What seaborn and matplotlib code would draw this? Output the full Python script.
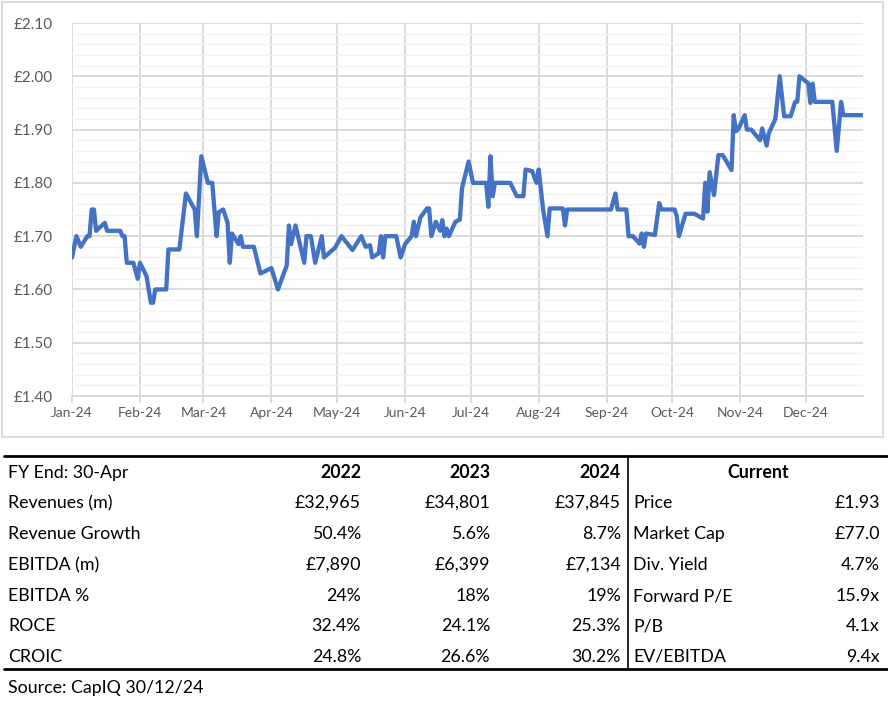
import matplotlib
matplotlib.use("Agg")
import matplotlib.pyplot as plt
import matplotlib.dates as mdates
from matplotlib.lines import Line2D
from matplotlib.patches import Rectangle
from matplotlib.ticker import MultipleLocator, FuncFormatter
import seaborn as sns
import pandas as pd

# ---------------- data ----------------
dates = [
    "2024-01-01", "2024-01-03", "2024-01-05", "2024-01-08", "2024-01-09", "2024-01-10",
    "2024-01-11", "2024-01-12", "2024-01-16", "2024-01-17", "2024-01-23", "2024-01-24",
    "2024-01-25", "2024-01-26", "2024-01-29", "2024-01-31", "2024-02-01", "2024-02-04",
    "2024-02-06", "2024-02-07", "2024-02-08", "2024-02-13", "2024-02-14", "2024-02-19",
    "2024-02-22", "2024-02-26", "2024-02-27", "2024-02-29", "2024-03-03", "2024-03-05",
    "2024-03-07", "2024-03-08", "2024-03-10", "2024-03-12", "2024-03-13", "2024-03-14",
    "2024-03-17", "2024-03-18", "2024-03-19", "2024-03-24", "2024-03-27", "2024-04-01",
    "2024-04-04", "2024-04-08", "2024-04-09", "2024-04-10", "2024-04-12", "2024-04-16",
    "2024-04-17", "2024-04-19", "2024-04-21", "2024-04-24", "2024-04-25", "2024-04-30",
    "2024-05-03", "2024-05-08", "2024-05-12", "2024-05-14", "2024-05-16", "2024-05-17",
    "2024-05-20", "2024-05-21", "2024-05-22", "2024-05-23", "2024-05-28", "2024-05-30",
    "2024-06-01", "2024-06-04", "2024-06-05", "2024-06-06", "2024-06-08", "2024-06-11",
    "2024-06-12", "2024-06-13", "2024-06-15", "2024-06-17", "2024-06-18", "2024-06-19",
    "2024-06-20", "2024-06-21", "2024-06-24", "2024-06-26", "2024-06-27", "2024-06-30",
    "2024-07-02", "2024-07-08", "2024-07-09", "2024-07-10", "2024-07-11", "2024-07-12",
    "2024-07-19", "2024-07-22", "2024-07-25", "2024-07-26", "2024-07-29", "2024-07-31",
    "2024-08-01", "2024-08-03", "2024-08-05", "2024-08-06", "2024-08-12", "2024-08-13",
    "2024-08-14", "2024-09-03", "2024-09-05", "2024-09-06", "2024-09-10", "2024-09-11",
    "2024-09-13", "2024-09-16", "2024-09-17", "2024-09-18", "2024-09-19", "2024-09-23",
    "2024-09-25", "2024-09-26", "2024-10-02", "2024-10-03", "2024-10-04", "2024-10-07",
    "2024-10-11", "2024-10-15", "2024-10-16", "2024-10-17", "2024-10-18", "2024-10-20",
    "2024-10-22", "2024-10-24", "2024-10-28", "2024-10-29", "2024-10-30", "2024-10-31",
    "2024-11-03", "2024-11-04", "2024-11-06", "2024-11-10", "2024-11-11", "2024-11-13",
    "2024-11-14", "2024-11-17", "2024-11-19", "2024-11-21", "2024-11-24", "2024-11-26",
    "2024-11-27", "2024-11-28", "2024-12-02", "2024-12-03", "2024-12-04", "2024-12-05",
    "2024-12-13", "2024-12-15", "2024-12-17", "2024-12-18", "2024-12-27",
]
prices = [
    1.66, 1.70, 1.68, 1.70, 1.70, 1.75,
    1.75, 1.71, 1.725, 1.71, 1.71, 1.70,
    1.70, 1.65, 1.65, 1.62, 1.65, 1.625,
    1.575, 1.575, 1.60, 1.60, 1.675, 1.675,
    1.78, 1.75, 1.70, 1.85, 1.80, 1.80,
    1.70, 1.745, 1.75, 1.725, 1.65, 1.705,
    1.685, 1.70, 1.68, 1.68, 1.63, 1.64,
    1.60, 1.645, 1.72, 1.685, 1.72, 1.65,
    1.70, 1.70, 1.65, 1.70, 1.66, 1.678,
    1.70, 1.674, 1.70, 1.68, 1.683, 1.66,
    1.668, 1.70, 1.66, 1.70, 1.70, 1.66,
    1.685, 1.70, 1.727, 1.70, 1.735, 1.752,
    1.752, 1.70, 1.727, 1.71, 1.73, 1.70,
    1.714, 1.70, 1.727, 1.731, 1.79, 1.84,
    1.80, 1.80, 1.755, 1.85, 1.775, 1.80,
    1.80, 1.775, 1.775, 1.825, 1.822, 1.80,
    1.825, 1.75, 1.70, 1.752, 1.752, 1.72,
    1.75, 1.75, 1.78, 1.75, 1.75, 1.70,
    1.70, 1.686, 1.705, 1.68, 1.705, 1.702,
    1.762, 1.75, 1.75, 1.738, 1.70, 1.742,
    1.742, 1.733, 1.80, 1.746, 1.82, 1.777,
    1.852, 1.852, 1.824, 1.927, 1.897, 1.90,
    1.927, 1.90, 1.90, 1.88, 1.902, 1.87,
    1.893, 1.92, 2.00, 1.925, 1.925, 1.952,
    1.952, 2.00, 1.987, 1.95, 1.986, 1.952,
    1.952, 1.86, 1.952, 1.927, 1.927,
]

y_ticks = [1.40, 1.50, 1.60, 1.70, 1.80, 1.90, 2.00, 2.10]

table_header = ["FY End: 30-Apr", "2022", "2023", "2024", "Current"]
metrics = ["Revenues (m)", "Revenue Growth", "EBITDA (m)", "EBITDA %", "ROCE", "CROIC"]
fy2022 = ["£32,965", "50.4%", "£7,890", "24%", "32.4%", "24.8%"]
fy2023 = ["£34,801", "5.6%", "£6,399", "18%", "24.1%", "26.6%"]
fy2024 = ["£37,845", "8.7%", "£7,134", "19%", "25.3%", "30.2%"]
current_labels = ["Price", "Market Cap", "Div. Yield", "Forward P/E", "P/B", "EV/EBITDA"]
current_values = ["£1.93", "£77.0", "4.7%", "15.9x", "4.1x", "9.4x"]
source_note = "Source: CapIQ 30/12/24"

# ---------------- styling ----------------
sns.set_theme(style="white")
plt.rcParams["font.family"] = ["Lato", "DejaVu Sans"]

W, H = 888, 702
fig = plt.figure(figsize=(W / 100, H / 100), dpi=100)
fig.patch.set_facecolor("white")


def fx(px):
    return px / W


def fy(py):
    return 1 - py / H


# chart border
fig.patches.append(Rectangle((fx(1.5), fy(437)), fx(883) - fx(1.5), fy(1.5) - fy(437),
                             transform=fig.transFigure, fill=False,
                             edgecolor="#D9D9D9", linewidth=1.3, zorder=0))

ax = fig.add_axes([fx(72), fy(396), fx(863) - fx(72), fy(23) - fy(396)])

df = pd.DataFrame({"date": pd.to_datetime(dates), "price": prices})
sns.lineplot(data=df, x="date", y="price", ax=ax, color="#4472C4", linewidth=3.1,
             solid_joinstyle="round", solid_capstyle="round", zorder=5)

ax.set_ylim(1.40, 2.10)
ax.set_xlim(pd.Timestamp("2024-01-01"), pd.Timestamp("2024-12-27"))
ax.set_yticks(y_ticks)
ax.yaxis.set_minor_locator(MultipleLocator(0.02))
ax.yaxis.set_major_formatter(FuncFormatter(lambda v, p: f"£{v:.2f}"))
ax.xaxis.set_major_locator(mdates.MonthLocator())
ax.xaxis.set_major_formatter(mdates.DateFormatter("%b-%y"))

ax.grid(which="major", axis="both", color="#D9D9D9", linewidth=1.3, zorder=1)
ax.grid(which="minor", axis="y", color="#F2F2F2", linewidth=1.0, zorder=0)
ax.set_axisbelow(True)
for s in ["top", "right", "left"]:
    ax.spines[s].set_visible(False)
ax.spines["bottom"].set_color("#D9D9D9")
ax.spines["bottom"].set_linewidth(1.3)
ax.tick_params(axis="x", which="major", length=5, width=1.3, color="#D9D9D9",
               labelsize=10, labelcolor="#595959", pad=3, bottom=True)
ax.tick_params(axis="y", which="both", length=0, labelsize=11, labelcolor="#595959", pad=14)
ax.tick_params(axis="y", which="minor", left=False)
ax.set_xlabel("")
ax.set_ylabel("")

# ---------------- table ----------------
tfs = 12.8
x_label = 8
x_cols = [361, 490, 621]
x_vline = 628
x_cur_label = 633
x_cur_val = 880
x_cur_head = 758
y_head = 473
y_rows = [503, 534, 565, 596, 626, 657]

fig.add_artist(Line2D([fx(4), fx(888)], [fy(456), fy(456)], color="black", linewidth=2.0,
                      transform=fig.transFigure))
fig.add_artist(Line2D([fx(4), fx(888)], [fy(669), fy(669)], color="black", linewidth=2.0,
                      transform=fig.transFigure))
fig.add_artist(Line2D([fx(x_vline), fx(x_vline)], [fy(456), fy(669)], color="black",
                      linewidth=1.2, transform=fig.transFigure))

fig.text(fx(x_label), fy(y_head), table_header[0], ha="left", va="center", fontsize=tfs, color="black")
for xc, h in zip(x_cols, table_header[1:4]):
    fig.text(fx(xc), fy(y_head), h, ha="right", va="center", fontsize=tfs, fontweight="bold", color="black")
fig.text(fx(x_cur_head), fy(y_head), table_header[4], ha="center", va="center", fontsize=tfs,
         fontweight="bold", color="black")

for i, yr in enumerate(y_rows):
    fig.text(fx(x_label), fy(yr), metrics[i], ha="left", va="center", fontsize=tfs, color="black")
    for xc, col in zip(x_cols, [fy2022, fy2023, fy2024]):
        fig.text(fx(xc), fy(yr), col[i], ha="right", va="center", fontsize=tfs, color="black")
    fig.text(fx(x_cur_label), fy(yr), current_labels[i], ha="left", va="center", fontsize=tfs, color="black")
    fig.text(fx(x_cur_val), fy(yr), current_values[i], ha="right", va="center", fontsize=tfs, color="black")

fig.text(fx(x_label), fy(688), source_note, ha="left", va="center", fontsize=tfs, color="black")

fig.savefig("out.png", dpi=100, facecolor="white")
